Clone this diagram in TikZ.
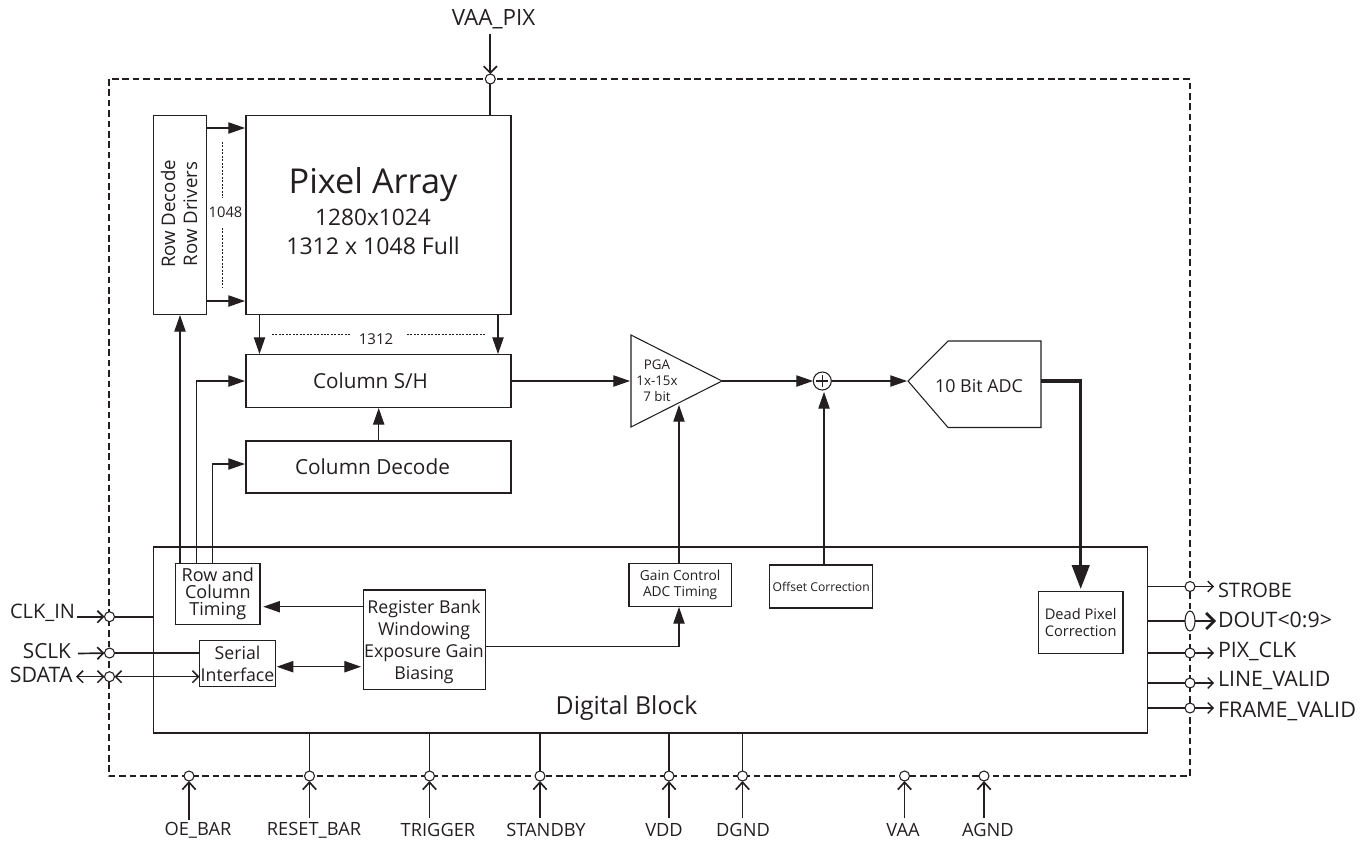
\documentclass[tikz,border=0pt]{standalone}
\usepackage{fontspec}
\setmainfont{Open Sans}
\usetikzlibrary{arrows.meta,shapes.geometric}
\definecolor{ink}{HTML}{231F20}
\tikzset{
  x=0.75pt,y=-0.75pt,
  every node/.style={text=ink,inner sep=0pt,outer sep=0pt},
  box/.style={draw=ink,line width=0.8pt,fill=white,align=center,anchor=north west},
  line/.style={draw=ink,line width=0.8pt},
  wire/.style={draw=ink,line width=1.25pt},
  tri/.style={draw=ink,line width=0.8pt,-{Triangle[length=12.5pt,width=8.5pt]}},
  tribi/.style={draw=ink,line width=0.8pt,{Triangle[length=12.5pt,width=8.5pt]}-{Triangle[length=12.5pt,width=8.5pt]}},
  bigarr/.style={draw=ink,line width=2.6pt,-{Triangle[length=18pt,width=13pt]}},
  pinin/.style={draw=ink,line width=1.25pt,-{Straight Barb[length=4.5pt,width=9pt]}},
  pinup/.style={draw=ink,line width=1.25pt,-{Straight Barb[length=5.5pt,width=10pt]}},
  pinbi/.style={draw=ink,line width=1.1pt,{Straight Barb[length=4.5pt,width=9pt]}-{Straight Barb[length=4.5pt,width=9pt]}},
  pad/.style={circle,draw=ink,fill=white,line width=0.8pt,minimum size=7.5pt},
  dots/.style={draw=ink,line width=0.45pt,dash pattern=on 1.5pt off 1.1pt},
  pinlab/.style={font=\fontsize{16pt}{18pt}\selectfont},
  botlab/.style={font=\fontsize{13.7pt}{15pt}\selectfont},
}
\begin{document}
\begin{tikzpicture}
\useasboundingbox (0,0) rectangle (1370,844);
% outer
\draw[draw=ink,line width=1.25pt,dash pattern=on 5pt off 2.8pt,line join=round] (109,79) rectangle (1190,776);
% blocks
\node[box,minimum width=39.5pt,minimum height=149.25pt] (rowdec) at (153.5,115.5) {};
\node[rotate=90,align=center,font=\fontsize{14pt}{16.5pt}\selectfont] (rowdect) at (179,214) {Row Decode\\Row Drivers};
\node[box,minimum width=198.75pt,minimum height=149.25pt] (pix) at (246,115.5) {};
\node[font=\fontsize{25.7pt}{30pt}\selectfont] (pixt) at (373,185) {Pixel Array};
\node[font=\fontsize{17pt}{18pt}\selectfont] (pixa) at (373,217) {1280x1024};
\node[font=\fontsize{17.3pt}{18pt}\selectfont] (pixb) at (373,246) {1312 x 1048 Full};
\node[box,minimum width=198.75pt,minimum height=39.5pt] (colsh) at (246,354.5) {};
\node[font=\fontsize{15.5pt}{16pt}\selectfont] (colsht) at (370.5,381) {Column S/H};
\node[box,minimum width=198.75pt,minimum height=39pt] (coldec) at (246,441) {};
\node[font=\fontsize{15.6pt}{16pt}\selectfont] (coldect) at (372.5,467) {Column Decode};
\node[box,minimum width=745.5pt,minimum height=139.5pt] (dig) at (153.5,547) {};
\node[font=\fontsize{18.6pt}{20pt}\selectfont] (digt) at (626.5,708) {Digital Block};
\node[box,minimum width=63.2pt,minimum height=45.7pt,font=\fontsize{13.5pt}{12.8pt}\selectfont] (rct) at (175.7,563.7) {Row and\\Column\\Timing};
\node[box,minimum width=57pt,minimum height=34pt,font=\fontsize{13.3pt}{16.5pt}\selectfont] (ser) at (199.5,640.7) {Serial\\Interface};
\node[box,minimum width=91.5pt,minimum height=74.5pt] (reg) at (363.3,590) {};
\node[align=center,font=\fontsize{13.3pt}{16.5pt}\selectfont] (regt) at (424,641.5) {Register Bank\\Windowing\\Exposure Gain\\Biasing};
\node[box,minimum width=76.7pt,minimum height=32.25pt,font=\fontsize{10.3pt}{12pt}\selectfont] (gain) at (629,563.7) {Gain Control\\ADC Timing};
\node[box,minimum width=77.25pt,minimum height=32.25pt,font=\fontsize{9.1pt}{10pt}\selectfont] (off) at (769.7,565) {Offset Correction};
\node[box,minimum width=63.5pt,minimum height=46.2pt,font=\fontsize{11pt}{13.3pt}\selectfont] (dead) at (1038.3,591.7) {Dead Pixel\\Correction};
% PGA
\draw[line] (631,335) -- (722,381) -- (631,427) -- cycle;
\node[align=center,font=\fontsize{10pt}{12pt}\selectfont] (pgat) at (657,381) {PGA\\1x-15x\\7 bit};
% sum
\node[circle,draw=ink,line width=0.8pt,minimum size=13.5pt,fill=white] (sum) at (822.3,381) {};
\draw[line] (sum.center)++(-6,0) -- ++(12,0);
\draw[line] (sum.center)++(0,-6) -- ++(0,12);
% ADC
\draw[line] (908,381) -- (948,341) -- (1041,341) -- (1041,427.5) -- (948,427.5) -- cycle;
\node[font=\fontsize{13.4pt}{14pt}\selectfont] (adct) at (979,386) {10 Bit ADC};
% connectors
\draw[tri] (206,128) -- (245,128);
\draw[tri] (206,301) -- (245,301);
\draw[dots] (222.3,142) -- (222.3,198);
\draw[dots] (222.3,228) -- (222.3,288);
\node[font=\fontsize{11pt}{12pt}\selectfont] (n1048) at (225.5,212.5) {1048};
\draw[tri] (259.5,315) -- (259.5,354);
\draw[tri] (498,315) -- (498,354);
\draw[dots] (272,334.5) -- (351,334.5);
\draw[dots] (407,334.5) -- (485,334.5);
\node[font=\fontsize{11.2pt}{12pt}\selectfont] (n1312) at (376,339.5) {1312};
% timing up
\draw[tri] (180,564) -- (180,315);
\draw[tri] (196.5,564) -- (196.5,381) -- (245,381);
\draw[tri] (212.5,564) -- (212.5,464) -- (245,464);
\draw[tri] (378.7,440) -- (378.7,408);
\draw[tri] (511,381) -- (630,381);
\draw[tri] (722,381) -- (813,381);
\draw[tri] (824,565) -- (824,392);
\draw[tri] (832,381) -- (907,381);
\draw[tri] (679,564) -- (679,405);
\draw[tri] (485,646.3) -- (679,646.3) -- (679,607);
\draw[tri] (362.7,606.7) -- (263.3,606.7);
\draw[tribi] (276.7,666.7) -- (361,666.7);
\draw[bigarr] (1041,381) -- (1080.7,381) -- (1080.7,589);
% left pins
\node[font=\fontsize{15pt}{16pt}\selectfont,anchor=east] (clk) at (75,612.5) {CLK\_IN};
\node[font=\fontsize{15.6pt}{16pt}\selectfont,anchor=east] (sclk) at (71,651) {SCLK};
\node[pinlab,anchor=east] (sdata) at (72.5,675) {SDATA};
\node[pad] (pclk) at (109.5,616.7) {};
\node[pad] (psclk) at (109.5,653) {};
\node[pad] (psd) at (109.5,676.7) {};
\draw[wire] (pclk) -- (153.5,616.7);
\draw[wire] (psclk) -- (199.5,653);
\draw[pinin] (77,616.7) -- (pclk);
\draw[pinin] (78,653.5) -- (psclk);
\draw[pinbi] (76,676.7) -- (psd);
\draw[pinbi] (psd) -- (199.5,676.7);
% top
\node[font=\fontsize{16.8pt}{18pt}\selectfont] (vaa) at (493.5,19) {VAA\_PIX};
\node[pad] (pvaa) at (490.3,79) {};
\draw[pinup,-{Straight Barb[length=5pt,width=10pt]}] (490.3,34) -- (pvaa);
\draw[wire] (pvaa) -- (490.3,115);
% bottom
\foreach \n/\lx/\px/\t/\sy in {oe/198/189/OE\_BAR/820,rst/314/309.5/RESET\_BAR/818,trg/438/429.5/TRIGGER/818,stb/546/540/STANDBY/818,vdd/664/669/VDD/818,dgnd/743/742.5/DGND/818,vaa2/903/904.5/VAA/818,agnd/988/984/AGND/818}{
  \node[pad] (p\n) at (\px,776) {};
  \node[botlab] (l\n) at (\lx,830) {\t};
  \draw[pinup] (\px,\sy) -- (p\n);
}
\foreach \n/\px in {rst/309.5,trg/429.5,stb/540,vdd/669,dgnd/742.5}{
  \draw[wire] (\px,733) -- (p\n);
}
% right pins
\foreach \n/\y/\ly/\t/\w/\fs in {st/586.5/590/STROBE/0.8pt/15,pc/653/651/PIX\_CLK/1.25pt/16,lv/683/680/LINE\_VALID/0.8pt/16,fv/708/711/FRAME\_VALID/0.8pt/16.2}{
  \node[pad] (p\n) at (1190,\y) {};
  \node[font=\fontsize{\fs pt}{18pt}\selectfont,anchor=west] (l\n) at (1218,\ly) {\t};
  \draw[draw=ink,line width=\w] (1147,\y) -- (p\n);
  \draw[line,line width=1pt,-{Straight Barb[length=4pt,width=8pt]}] (p\n) -- (1214,\y);
}
\node[ellipse,draw=ink,fill=white,line width=0.8pt,minimum width=7.5pt,minimum height=15pt] (pd) at (1190,621) {};
\node[pinlab,anchor=west] (ld) at (1218,620) {DOUT<0:9>};
\draw[draw=ink,line width=2pt] (1147,621) -- (pd);
\draw[draw=ink,line width=2pt,-{Straight Barb[length=6pt,width=12pt]}] (pd) -- (1216,621);
\end{tikzpicture}
\end{document}
